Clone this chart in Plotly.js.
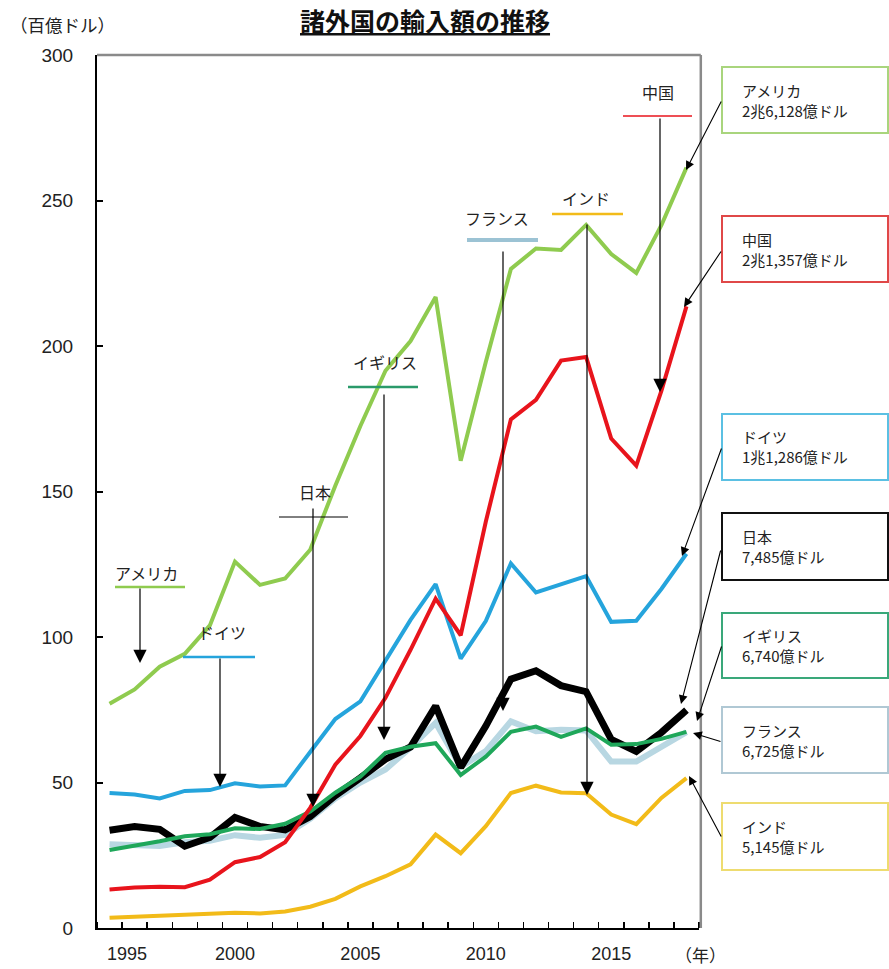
<!DOCTYPE html>
<html>
<head>
<meta charset="utf-8">
<script src="https://cdn.plot.ly/plotly-3.0.1.min.js"></script>
<style>html,body{margin:0;padding:0;background:#fff;}#chart{width:889px;height:969px;}</style>
</head>
<body>
<div id="chart"></div>
<script>
// ---- data (百億ドル) ----
const years = [1995,1996,1997,1998,1999,2000,2001,2002,2003,2004,2005,2006,2007,2008,2009,2010,2011,2012,2013,2014,2015,2016,2017,2018];
const usa     = [77.1,82.0,89.8,94.2,104.0,125.9,117.9,120.1,130.0,152.0,172.5,191.5,201.7,216.8,160.6,194.5,226.5,233.5,233.0,241.6,231.6,225.1,241.5,261.3];
const china   = [13.2,13.9,14.2,14.0,16.6,22.6,24.4,29.5,41.3,56.1,66.0,79.1,95.6,113.2,100.6,139.6,174.8,181.5,195.0,196.2,168.2,158.9,184.6,213.6];
const germany = [46.4,45.9,44.5,47.1,47.4,49.7,48.6,49.0,60.5,71.8,77.9,92.2,105.9,118.2,92.6,105.5,125.3,115.3,118.2,120.9,105.2,105.6,116.5,128.6];
const japan   = [33.6,34.9,33.9,28.1,31.1,38.0,34.9,33.7,38.3,45.5,51.6,58.0,62.2,76.3,55.2,69.4,85.5,88.4,83.3,81.2,64.8,60.7,67.2,74.9];
const uk      = [26.8,28.2,29.8,31.5,32.2,34.3,34.0,35.8,40.0,46.5,52.0,60.2,62.3,63.5,52.6,58.9,67.4,69.2,65.7,68.6,63.0,63.2,65.0,67.4];
const france  = [28.8,28.6,28.2,29.5,30.0,31.9,31.0,32.0,37.5,44.5,50.0,54.5,62.0,70.5,55.4,60.8,71.0,67.6,68.1,67.9,57.2,57.2,62.5,67.3];
const india   = [3.5,3.8,4.1,4.3,4.7,5.2,5.0,5.7,7.3,10.0,14.3,17.8,21.9,32.1,25.7,35.0,46.4,48.9,46.6,46.3,39.0,35.7,44.7,51.5];
const yTicks  = [0,50,100,150,200,250,300];
const xTickYears = [1995,2000,2005,2010,2015];
const xTickText  = ['\u00a0\u00a0\u00a0\u00a0\u00a0\u00a0\u00a01995','2000','2005','2010','2015'];

const names = ['アメリカ','中国','ドイツ','日本','イギリス','フランス','インド'];
const totals = ['2兆6,128億ドル','2兆1,357億ドル','1兆1,286億ドル','7,485億ドル','6,740億ドル','6,725億ドル','5,145億ドル'];

// ---- styling ----
const C = {
  usa:'#8fcb4f', china:'#e8141c', germany:'#25a4dc', japan:'#000000',
  uk:'#1fa75a', france:'#b8d7e2', india:'#f2bb19'
};
const W = 889, H = 969;
const L = 97, R = 699, T = 55, B = 928;
const px = x => (x - L) / (R - L);
const py = y => (B - y) / (B - T);
const FONT = '"Noto Sans CJK JP", "Noto Sans", sans-serif';

function tr(y, color, width) {
  return {x: years, y: y, type:'scatter', mode:'lines', line:{color:color, width:width}, hoverinfo:'skip', showlegend:false};
}
const data = [
  tr(india, C.india, 4),
  tr(france, C.france, 6),
  tr(japan, C.japan, 7),
  tr(uk, C.uk, 4),
  tr(germany, C.germany, 4),
  tr(china, C.china, 4),
  tr(usa, C.usa, 4)
];

const shapes = [];
const annotations = [];

// plot frame (top & right gray)
shapes.push({type:'line', xref:'paper', yref:'paper', x0:0, x1:1.003, y0:1, y1:1, line:{color:'#8a8a8a', width:2.5}});
shapes.push({type:'line', xref:'paper', yref:'paper', x0:1.003, x1:1.003, y0:0, y1:1, line:{color:'#8a8a8a', width:2.5}});

// in-plot series labels with underline and down arrows
const inLabels = [
  {t:'アメリカ', tx:146, ty:573, l0:115, l1:185, ly:587, lc:C.usa, lw:2.5, ax:140, a0:587, a1:663},
  {t:'ドイツ',   tx:222, ty:632, l0:183, l1:255, ly:657, lc:C.germany, lw:2.5, ax:220, a0:657, a1:787},
  {t:'日本',     tx:315, ty:492, l0:279, l1:348, ly:517, lc:'#000', lw:1, ax:313, a0:507, a1:807},
  {t:'イギリス', tx:385, ty:362, l0:348, l1:418, ly:387, lc:'#2a9a6a', lw:2.5, ax:384, a0:393, a1:740},
  {t:'フランス', tx:497, ty:218, l0:467, l1:538, ly:240, lc:'#9cc3d4', lw:4, ax:503, a0:250, a1:711},
  {t:'インド',   tx:586, ty:198, l0:552, l1:623, ly:214, lc:C.india, lw:2.5, ax:587, a0:223, a1:795},
  {t:'中国',     tx:658, ty:92,  l0:623, l1:692, ly:116, lc:C.china, lw:1.3, ax:660, a0:117, a1:392}
];
inLabels.forEach(o => {
  annotations.push({xref:'paper', yref:'paper', x:px(o.tx), y:py(o.ty), text:o.t, showarrow:false,
    xanchor:'center', yanchor:'middle', font:{family:FONT, size:16, color:'#222'}});
  shapes.push({type:'line', xref:'paper', yref:'paper', x0:px(o.l0), x1:px(o.l1), y0:py(o.ly), y1:py(o.ly),
    line:{color:o.lc, width:o.lw}});
  annotations.push({xref:'paper', yref:'paper', x:px(o.ax), y:py(o.a1), text:'', showarrow:true,
    ax:0, ay:o.a0 - o.a1, arrowhead:2, arrowsize:2.2, arrowwidth:1.2, arrowcolor:'#000', standoff:0});
});

// right-hand boxes
const boxes = [
  {y0:67,  y1:133, c:'#a9d57d', tipX:686, tipY:170, tailX:722, tailY:100},
  {y0:216, y1:282, c:'#e04848', tipX:684, tipY:307, tailX:722, tailY:250},
  {y0:414, y1:480, c:'#5bc0e3', tipX:682, tipY:556, tailX:722, tailY:447},
  {y0:513, y1:580, c:'#111111', tipX:681, tipY:704, tailX:721, tailY:549},
  {y0:613, y1:678, c:'#3aa87a', tipX:697, tipY:721, tailX:722, tailY:645},
  {y0:707, y1:773, c:'#b0c8d4', tipX:693, tipY:733, tailX:722, tailY:742},
  {y0:803, y1:870, c:'#eedc70', tipX:689, tipY:776, tailX:722, tailY:838}
];
boxes.forEach((b, i) => {
  shapes.push({type:'rect', xref:'paper', yref:'paper', x0:px(722), x1:px(888), y0:py(b.y1), y1:py(b.y0),
    line:{color:b.c, width:2}, fillcolor:'rgba(255,255,255,0)'});
  annotations.push({xref:'paper', yref:'paper', x:px(740), y:py((b.y0+b.y1)/2), text:names[i] + '<br>' + totals[i],
    showarrow:false, xanchor:'left', yanchor:'middle', align:'left',
    font:{family:FONT, size:15, color:'#222'}});
  annotations.push({xref:'paper', yref:'paper', x:px(b.tipX), y:py(b.tipY), text:'', showarrow:true,
    ax:b.tailX - b.tipX, ay:b.tailY - b.tipY, arrowhead:2, arrowsize:1.6, arrowwidth:1.1, arrowcolor:'#000', standoff:0});
});

// title, unit labels
annotations.push({xref:'paper', yref:'paper', x:px(425), y:py(20), text:'<b><u>諸外国の輸入額の推移</u></b>', showarrow:false,
  xanchor:'center', yanchor:'middle', font:{family:FONT, size:25, color:'#111'}});
annotations.push({xref:'paper', yref:'paper', x:px(62), y:py(25), text:'（百億ドル）', showarrow:false,
  xanchor:'center', yanchor:'middle', font:{family:FONT, size:17.5, color:'#222'}});
annotations.push({xref:'paper', yref:'paper', x:px(700), y:py(955), text:'（年）', showarrow:false,
  xanchor:'center', yanchor:'middle', font:{family:FONT, size:17, color:'#222'}});

const layout = {
  width: W, height: H,
  margin: {l: L, r: W - R, t: T, b: H - B, pad: 0},
  paper_bgcolor:'#fff', plot_bgcolor:'#fff',
  showlegend:false,
  xaxis: {
    range:[1994.5, 2018.5], tickmode:'array', tickvals:xTickYears, ticktext:xTickText,
    ticks:'', showgrid:false, zeroline:false, showline:true, linecolor:'#000', linewidth:2,
    tickfont:{family:'"Liberation Sans", Arial, sans-serif', size:18, color:'#222'},
    ticklabelstandoff: 8,
    minor:{tickmode:'linear', tick0:1994.5, dtick:1, ticks:'inside', ticklen:6, tickwidth:1.5, tickcolor:'#000', showgrid:false}
  },
  yaxis: {
    range:[0, 300], tickmode:'array', tickvals:yTicks, ticks:'inside', ticklen:6, tickwidth:2, tickcolor:'#000',
    showgrid:false, zeroline:false, showline:true, linecolor:'#000', linewidth:2,
    tickfont:{family:'"Liberation Sans", Arial, sans-serif', size:19, color:'#222'},
    ticklabelstandoff: 18
  },
  shapes: shapes,
  annotations: annotations
};

Plotly.newPlot('chart', data, layout, {staticPlot:true, displayModeBar:false});
</script>
</body>
</html>
